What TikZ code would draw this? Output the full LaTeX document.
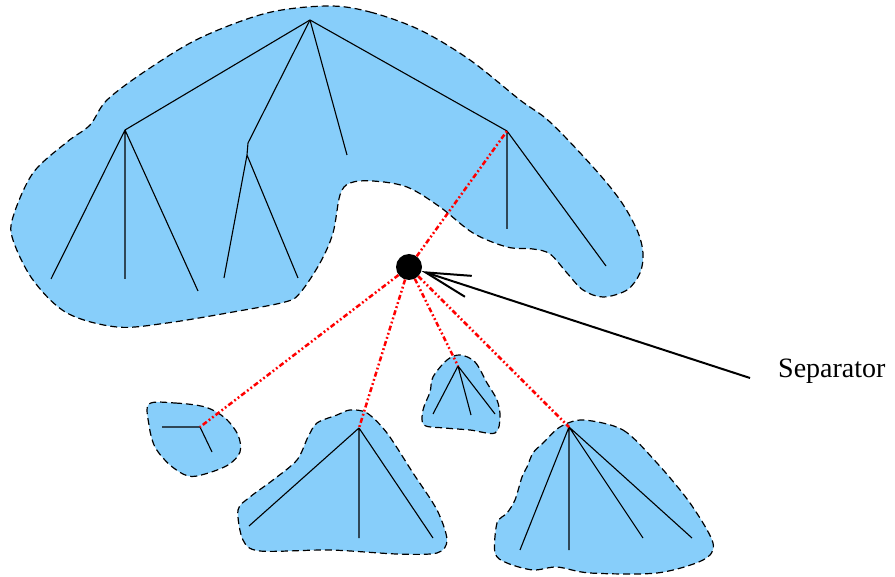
\documentclass[tikz,border=0pt]{standalone}
\usepackage{fontspec}
\setmainfont{Liberation Serif}
\usetikzlibrary{arrows.meta}
\definecolor{blobfill}{RGB}{135,206,250}
\tikzset{
  blob/.style={fill=blobfill, draw=black, line width=1.2pt, dash pattern=on 7pt off 4pt},
  edge/.style={draw=black, line width=1.1pt},
  sepline/.style={draw=red, line width=2.5pt, dash pattern=on 5pt off 2.5pt on 1.8pt off 2.5pt on 1.8pt off 2.5pt},
}
\begin{document}
\begin{tikzpicture}[x=1pt,y=-1pt]
\useasboundingbox (0,0) rectangle (895,577);
% blobs
\path[blob] plot[smooth cycle, tension=0.55] coordinates {
(328,6) (370,12) (420,30) (470,60) (520,100) (550,122) (593,167) (620,200) (637,230) (643,253) (640,273) (627,290) (603,297) (583,290) (567,273) (550,254) (533,249) (507,247) (473,233) (440,207) (407,187) (373,181) (350,183) (340,195) (333,233) (320,263) (300,293) (285,302) (233,312) (167,323) (117,327) (67,313) (33,280) (13,240) (13,217) (33,173) (67,142) (90,125) (107,100) (147,70) (200,38) (267,13)};
\path[blob] plot[smooth cycle, tension=0.55] coordinates {
(149,404) (175,403) (205,407) (225,418) (238,435) (240,452) (228,465) (205,474) (188,476) (170,465) (155,447) (149,425)};
\path[blob] plot[smooth cycle, tension=0.55] coordinates {
(460,355) (475,362) (487,383) (497,400) (500,417) (495,433) (470,430) (445,428) (424,425) (423,410) (430,392) (433,377) (447,360)};
\path[blob] plot[smooth cycle, tension=0.5] coordinates {
(350,410) (367,413) (387,433) (413,473) (437,510) (447,540) (437,553) (397,554) (330,550) (260,551) (243,540) (238,510) (250,497) (273,480) (297,460) (308,437) (317,423) (337,415)};
\path[blob] plot[smooth cycle, tension=0.5] coordinates {
(583,420) (623,430) (657,463) (690,503) (713,543) (703,560) (657,573) (590,573) (557,567) (533,570) (507,563) (495,553) (497,523) (507,513) (515,500) (522,477) (527,467) (533,453) (543,443) (560,427)};
% top tree
\coordinate (r) at (310,20);
\coordinate (a) at (125,130);
\coordinate (a1) at (51,279);
\coordinate (a2) at (125,279);
\coordinate (a3) at (198,291);
\coordinate (bk) at (248,143);
\coordinate (b) at (247,155);
\coordinate (b1) at (224,278);
\coordinate (b2) at (298,278);
\coordinate (c) at (347,155);
\coordinate (d) at (507,131);
\coordinate (d1) at (507,229);
\coordinate (d2) at (606,266);
\draw[edge] (r) -- (a) (a) -- (a1) (a) -- (a2) (a) -- (a3);
\draw[edge] (r) -- (bk) -- (b) (b) -- (b1) (b) -- (b2);
\draw[edge] (r) -- (c);
\draw[edge] (r) -- (d) (d) -- (d1) (d) -- (d2);
% small left tree
\coordinate (e) at (200,427);
\coordinate (e1) at (162,427);
\coordinate (e2) at (212,452);
\draw[edge] (e) -- (e1) (e) -- (e2);
% bottom middle tree
\coordinate (f) at (359,428);
\coordinate (f1) at (249,526);
\coordinate (f2) at (359,538);
\coordinate (f3) at (433,538);
\draw[edge] (f) -- (f1) (f) -- (f2) (f) -- (f3);
% small middle tree
\coordinate (g) at (458,366);
\coordinate (g1) at (433,414);
\coordinate (g2) at (471,415);
\coordinate (g3) at (495,414);
\draw[edge] (g) -- (g1) (g) -- (g2) (g) -- (g3);
% right tree
\coordinate (h) at (569,427);
\coordinate (h1) at (520,550);
\coordinate (h2) at (569,550);
\coordinate (h3) at (643,538);
\coordinate (h4) at (692,538);
\draw[edge] (h) -- (h1) (h) -- (h2) (h) -- (h3) (h) -- (h4);
% separator
\node[circle, fill=black, minimum size=26pt, inner sep=0pt] (sep) at (409,267) {};
\draw[sepline] (sep) -- (d);
\draw[sepline] (sep) -- (e);
\draw[sepline] (sep) -- (f);
\draw[sepline] (sep) -- (g);
\draw[sepline] (sep) -- (h);
\coordinate (as) at (750,378);
\node[anchor=base west, font=\fontsize{28}{33}\selectfont, inner sep=0pt] (lab) at (778,378) {Separator};
\draw[line width=2pt, -{Straight Barb[length=45pt, width=22pt]}] (as) -- (sep);
\end{tikzpicture}
\end{document}
